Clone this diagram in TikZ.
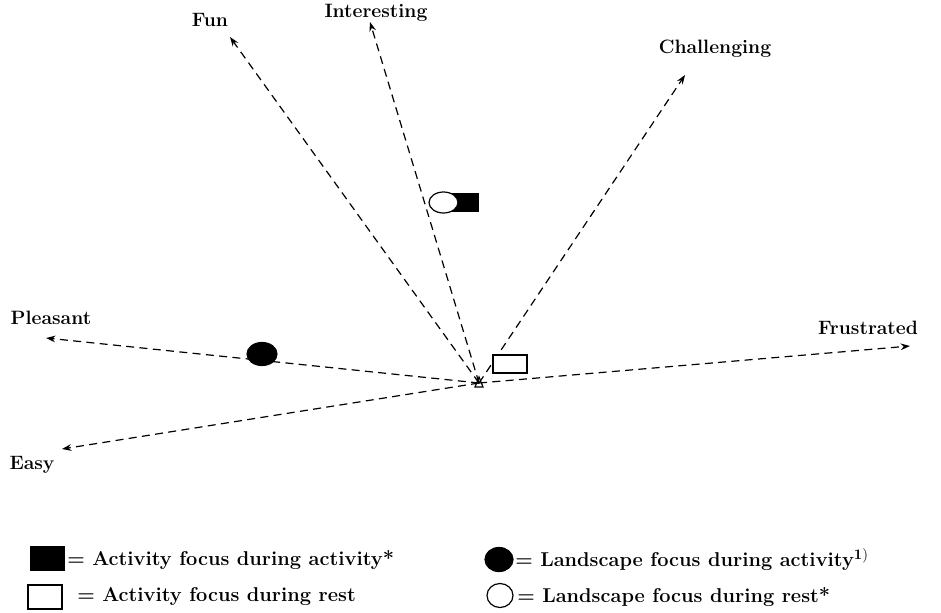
\documentclass[tikz,border=0pt]{standalone}
\usetikzlibrary{arrows.meta}
\begin{document}
\begin{tikzpicture}[x=0.75pt,y=-0.75pt,
  axis/.style={dash pattern=on 6pt off 4pt, line width=0.9pt, -{Stealth[length=7pt,width=5pt]}},
  lbl/.style={font=\fontsize{14.5}{17}\selectfont\bfseries, inner sep=0pt},
  legtxt/.style={font=\fontsize{15}{18}\selectfont\bfseries, inner sep=0pt, anchor=west},
  mk/.style={draw=black, line width=0.9pt}]
\useasboundingbox (0,0) rectangle (941,613);
\coordinate (o) at (479,383);
\coordinate (tfun) at (230,37);
\coordinate (tint) at (370,22);
\coordinate (tcha) at (685,75);
\coordinate (tple) at (46,338);
\coordinate (tfru) at (910,346);
\coordinate (teas) at (62,449);
\draw[axis] (o) -- (tfun);
\draw[axis] (o) -- (tint);
\draw[axis] (o) -- (tcha);
\draw[axis] (o) -- (tple);
\draw[axis] (o) -- (tfru);
\draw[axis] (o) -- (teas);
% centre triangle
\draw[line width=0.9pt] (475,387) -- (479,377) -- (483,387) -- cycle;
% labels
\node[lbl] (lfun) at (210,20) {Fun};
\node[lbl] (lint) at (376,13) {Interesting};
\node[lbl] (lcha) at (715,49) {Challenging};
\node[lbl] (lple) at (51,318) {Pleasant};
\node[lbl] (lfru) at (868,328) {Frustrated};
\node[lbl] (leas) at (32,465) {Easy};
% markers
\fill (452,193) rectangle (479,212);
\draw[mk, fill=white] (443.5,202.5) ellipse [x radius=14.5, y radius=10.5];
\draw[mk, fill=black] (262,354) ellipse [x radius=15, y radius=11.5];
\draw[mk, fill=white] (493,355) rectangle (527,373);
% legend
\fill (30,546) rectangle (65,571);
\node[legtxt] (t1) at (67,560) {= Activity focus during activity*};
\draw[mk, fill=white] (28,585) rectangle (62,609);
\node[legtxt] (t2) at (77,597) {= Activity focus during rest};
\draw[mk, fill=black] (499,559.5) ellipse [x radius=14, y radius=12];
\node[legtxt] (t3) at (515,560) {= Landscape focus during activity$^{\mathbf{1)}}$};
\draw[mk, fill=white] (500,595.5) ellipse [x radius=13, y radius=12];
\node[legtxt] (t4) at (517,597) {= Landscape focus during rest*};
\end{tikzpicture}
\end{document}
